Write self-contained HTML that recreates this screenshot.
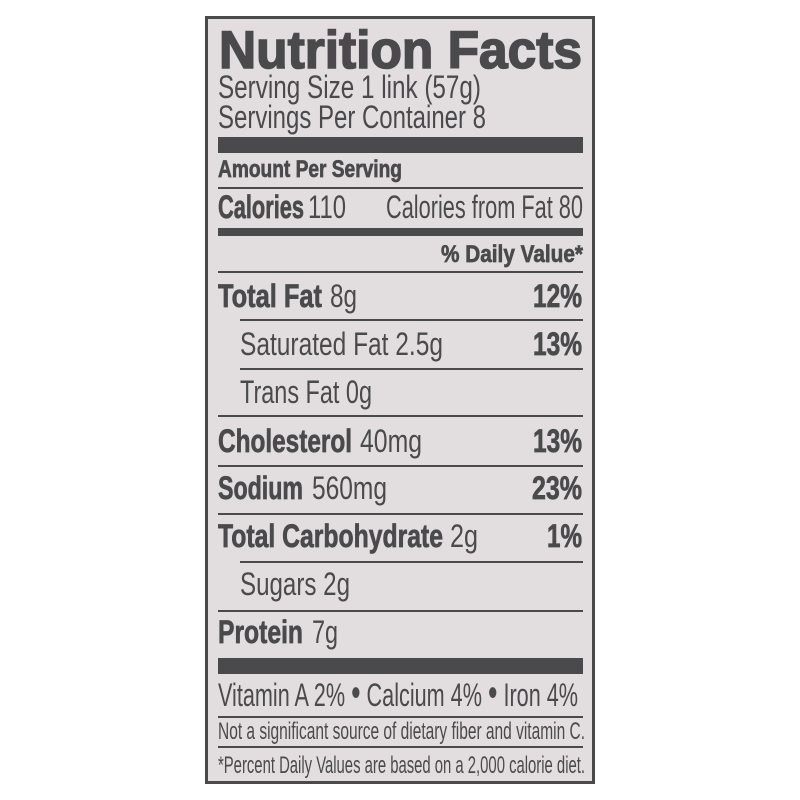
<!DOCTYPE html>
<html><head><meta charset="utf-8"><style>
html,body{margin:0;padding:0;background:#fff;width:800px;height:800px;overflow:hidden}
svg{display:block}
text{font-family:"Liberation Sans",Arial,sans-serif;fill:#4a4a4c}
.b{font-weight:bold;stroke:#4a4a4c;stroke-width:0.7}
.h{font-weight:bold;stroke:#4a4a4c;stroke-width:1.6}
</style></head><body>
<svg width="800" height="800" viewBox="0 0 800 800" xmlns="http://www.w3.org/2000/svg">
<rect x="0" y="0" width="800" height="800" fill="#fff"/>
<rect x="206.5" y="17.5" width="387" height="765" fill="#e2dedf" stroke="#4a4a4c" stroke-width="3"/>
<g fill="#4a4a4c">
<rect x="218" y="137" width="365" height="16"/>
<rect x="218" y="187" width="365" height="2"/>
<rect x="218" y="228" width="365" height="8"/>
<rect x="218" y="271" width="365" height="2"/>
<rect x="240" y="319" width="343" height="2"/>
<rect x="240" y="368" width="343" height="2"/>
<rect x="218" y="415" width="365" height="2"/>
<rect x="218" y="465" width="365" height="2"/>
<rect x="218" y="513" width="365" height="2"/>
<rect x="240" y="561" width="343" height="2"/>
<rect x="218" y="610" width="365" height="2"/>
<rect x="218" y="658" width="365" height="16"/>
<rect x="218" y="716" width="365" height="2"/>
<rect x="218" y="746" width="365" height="2"/>
</g>
<text class="h" x="219" y="68" font-size="53" textLength="363" lengthAdjust="spacingAndGlyphs">Nutrition Facts</text>
<text x="218" y="98" font-size="32" textLength="263" lengthAdjust="spacingAndGlyphs">Serving Size 1 link (57g)</text>
<text x="218" y="128" font-size="32" textLength="268" lengthAdjust="spacingAndGlyphs">Servings Per Container 8</text>
<text class="b" x="218" y="177" font-size="24" textLength="184" lengthAdjust="spacingAndGlyphs">Amount Per Serving</text>
<text class="b" x="218" y="218" font-size="32" textLength="86" lengthAdjust="spacingAndGlyphs">Calories</text>
<text x="308" y="218" font-size="32" textLength="38" lengthAdjust="spacingAndGlyphs">110</text>
<text x="386" y="218" font-size="32" textLength="197" lengthAdjust="spacingAndGlyphs">Calories from Fat 80</text>
<text class="b" x="441" y="262" font-size="24" textLength="142" lengthAdjust="spacingAndGlyphs">% Daily Value*</text>

<text class="b" x="218" y="307" font-size="32" textLength="104" lengthAdjust="spacingAndGlyphs">Total Fat</text>
<text x="330" y="307" font-size="32" textLength="27" lengthAdjust="spacingAndGlyphs">8g</text>
<text class="b" x="533" y="307" font-size="32" textLength="49" lengthAdjust="spacingAndGlyphs">12%</text>

<text x="240" y="355" font-size="32" textLength="203" lengthAdjust="spacingAndGlyphs">Saturated Fat 2.5g</text>
<text class="b" x="533" y="355" font-size="32" textLength="49" lengthAdjust="spacingAndGlyphs">13%</text>

<text x="240" y="403" font-size="32" textLength="132" lengthAdjust="spacingAndGlyphs">Trans Fat 0g</text>

<text class="b" x="218" y="452" font-size="32" textLength="134" lengthAdjust="spacingAndGlyphs">Cholesterol</text>
<text x="360" y="452" font-size="32" textLength="62" lengthAdjust="spacingAndGlyphs">40mg</text>
<text class="b" x="533" y="452" font-size="32" textLength="49" lengthAdjust="spacingAndGlyphs">13%</text>

<text class="b" x="218" y="499" font-size="32" textLength="85" lengthAdjust="spacingAndGlyphs">Sodium</text>
<text x="312" y="499" font-size="32" textLength="75" lengthAdjust="spacingAndGlyphs">560mg</text>
<text class="b" x="532" y="499" font-size="32" textLength="50" lengthAdjust="spacingAndGlyphs">23%</text>

<text class="b" x="218" y="547" font-size="32" textLength="225" lengthAdjust="spacingAndGlyphs">Total Carbohydrate</text>
<text x="450" y="547" font-size="32" textLength="28" lengthAdjust="spacingAndGlyphs">2g</text>
<text class="b" x="547" y="547" font-size="32" textLength="35" lengthAdjust="spacingAndGlyphs">1%</text>

<text x="240" y="595" font-size="32" textLength="110" lengthAdjust="spacingAndGlyphs">Sugars 2g</text>

<text class="b" x="218" y="643" font-size="32" textLength="85" lengthAdjust="spacingAndGlyphs">Protein</text>
<text x="312" y="643" font-size="32" textLength="26" lengthAdjust="spacingAndGlyphs">7g</text>

<text x="218" y="706" font-size="32" textLength="360" lengthAdjust="spacingAndGlyphs">Vitamin A 2% <tspan font-size="40">•</tspan> Calcium 4% <tspan font-size="40">•</tspan> Iron 4%</text>
<text x="218" y="739" font-size="24" textLength="367" lengthAdjust="spacingAndGlyphs">Not a significant source of dietary fiber and vitamin C.</text>
<text x="218" y="773" font-size="24" textLength="367" lengthAdjust="spacingAndGlyphs">*Percent Daily Values are based on a 2,000 calorie diet.</text>
</svg>
</body></html>
